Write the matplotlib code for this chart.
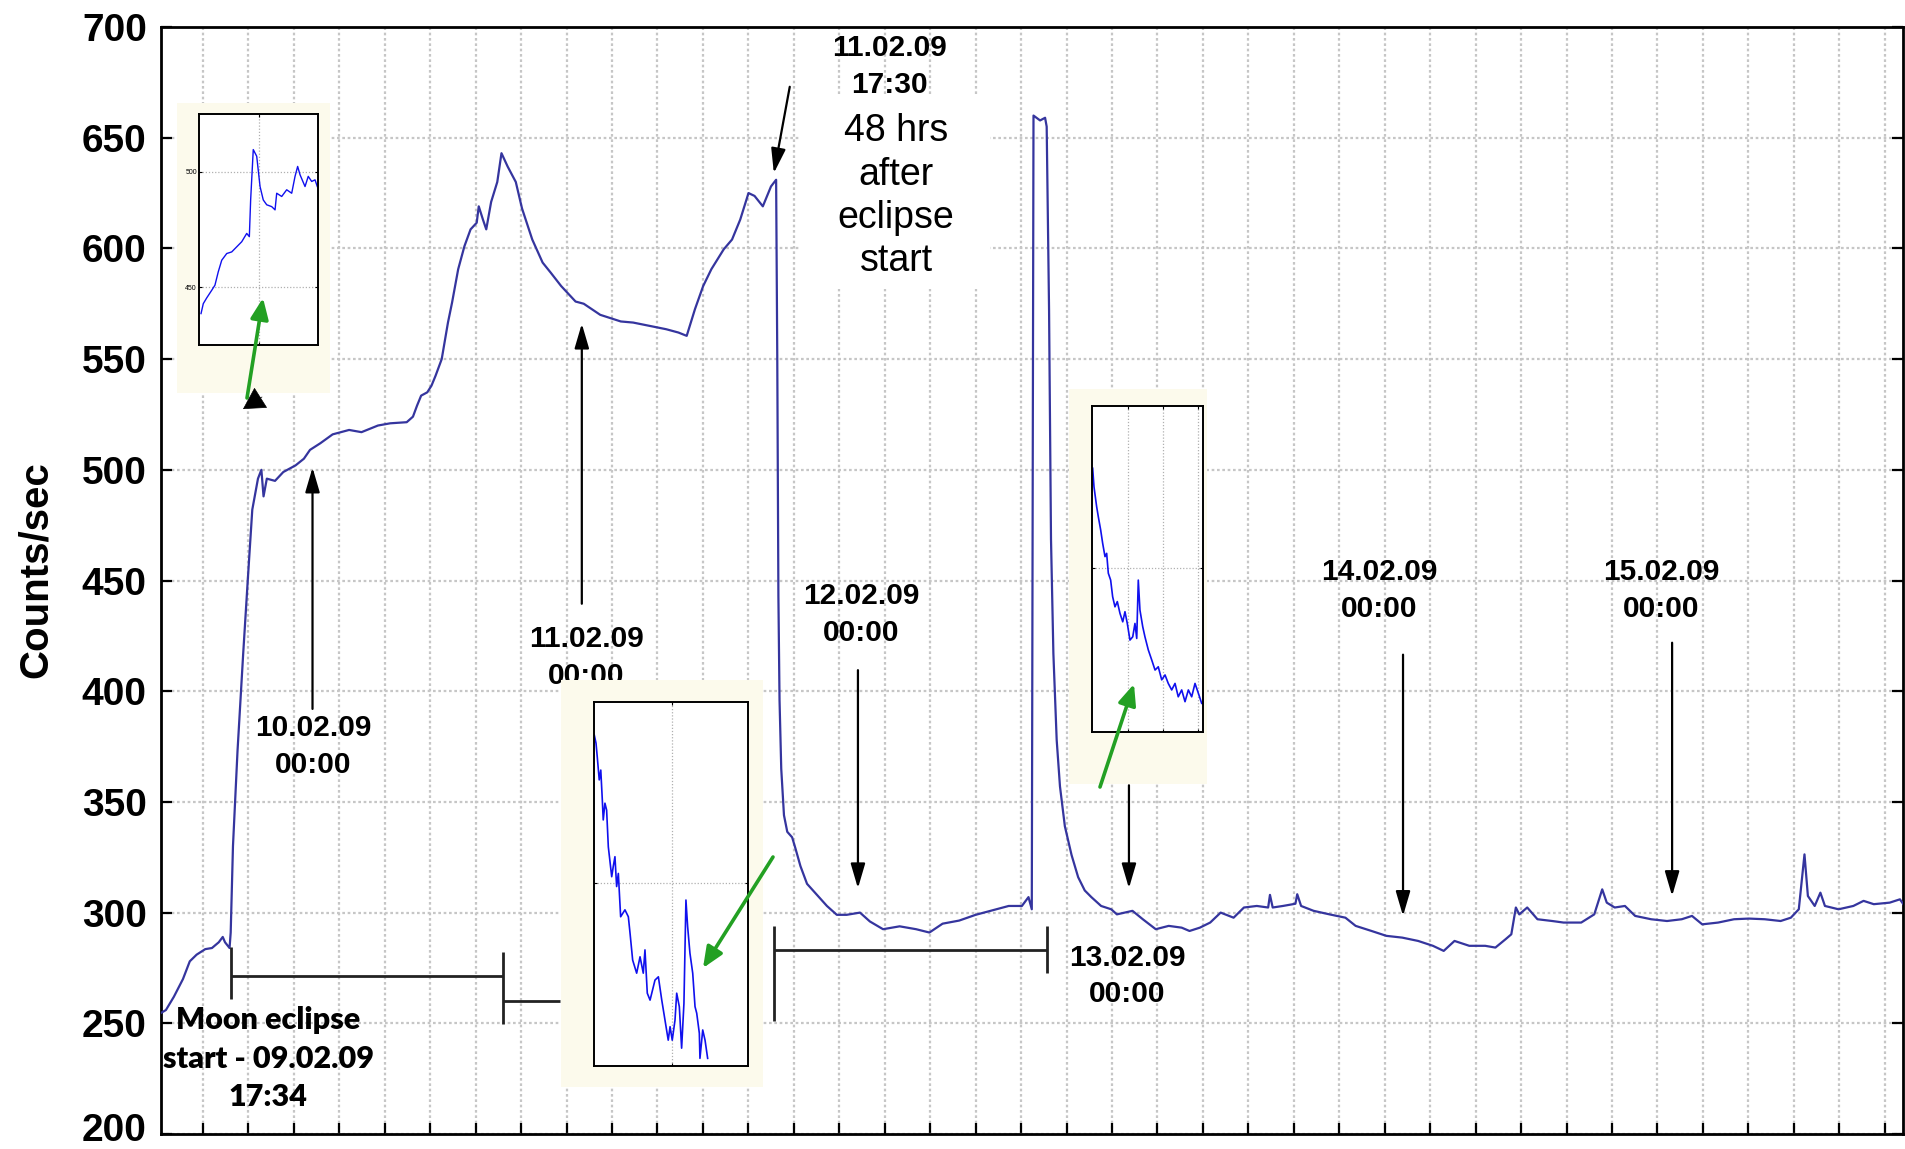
import numpy as np
import matplotlib
matplotlib.use("Agg")
import matplotlib.pyplot as plt
from matplotlib.patches import Rectangle, FancyArrowPatch
from matplotlib.transforms import ScaledTranslation

# ---------------- data (hours since 09.02.09 00:00, counts/sec) ----------------
hours = [10.94, 11.4, 12.1, 12.9, 13.5, 14.1, 14.86, 15.45, 16.05, 16.4, 16.6, 17.0, 17.1,
         17.3, 17.7, 18.2, 18.6, 19.0, 19.5, 19.80, 19.99, 20.28, 21.0, 21.73, 22.81, 23.54,
         24.08, 24.99, 26.07, 27.52, 28.61, 30.06, 31.14, 32.59, 33.14, 33.5, 33.86, 34.4,
         34.77, 35.13, 35.67, 36.22, 36.58, 37.12, 37.67, 38.21, 38.75, 38.93, 39.3, 39.59,
         40.02, 40.56, 40.93, 41.47, 42.19, 42.74, 43.64, 44.55, 45.27, 46.18, 47.45, 48.17,
         49.62, 51.43, 52.52, 53.97, 55.42, 56.5, 57.23, 57.59, 57.96, 58.68, 59.4, 60.49,
         61.22, 61.94, 62.67, 63.2, 63.93, 64.65, 65.1,
         65.2, 65.3, 65.4, 65.55, 65.79, 66.08, 66.51, 66.8, 67.24, 67.82, 68.70, 69.57,
         70.44, 71.31, 72.48, 73.35, 74.51, 75.97, 77.42, 78.59, 79.75, 81.21, 82.66, 84.11,
         85.57, 86.73, 87.31, 87.6, 87.75, 88.33, 88.77, 88.91, 89.12, 89.29, 89.5, 89.79,
         90.08, 90.51, 91.1, 91.68, 92.26, 92.84, 93.7, 94.59, 95.09, 96.46, 97.37, 98.51,
         99.65, 100.79, 101.48, 102.39, 103.3, 104.22, 105.36, 106.27, 107.4, 108.4, 108.56,
         108.8, 109.7, 110.8, 110.96, 111.3, 112.4, 113.8, 115.2, 116.1, 117.5, 118.8, 120.2,
         121.6, 122.9, 123.85, 124.8, 126.1, 127.5, 128.4, 129.3, 129.8, 130.2, 130.5, 131.2,
         132.1, 133.4, 134.4, 135.95, 137.1, 137.8, 138.2, 138.9, 139.8, 140.7, 142.1, 143.5,
         144.8, 145.7, 146.6, 148.0, 149.4, 150.7, 152.1, 153.5, 154.4, 155.1, 155.6, 155.9,
         156.5, 157.0, 157.4, 158.6, 159.9, 160.8, 161.7, 163.1, 164.0, 164.3]
counts = [254.6, 256, 262, 270, 278, 281, 283.5, 284, 286.6, 289, 286.6, 284, 291,
          330, 373, 417, 450, 482, 496, 500, 488, 496, 495, 499, 502, 505,
          509, 512, 516, 518, 517, 520, 521, 521.5, 524, 529, 533.5, 535,
          538, 542.5, 550, 566.5, 575.5, 590.6, 601, 608.6, 611.6, 619, 613, 608.6,
          621, 630, 643, 637, 630, 618, 604, 593.6, 589, 583, 576, 575,
          570, 567, 566.5, 565, 563.5, 562, 560.5, 566.5, 572.6, 583, 590.6, 599.6,
          604, 613, 625, 623.7, 619, 628, 631,
          551.6, 443, 396, 365, 344, 336.5, 334, 329, 321, 313, 308, 303,
          299, 299, 300, 296, 292.5, 293.8, 292.5, 291, 295, 296.4, 299, 301,
          303, 303, 307, 301.5, 660, 657.8, 659, 655, 572, 468.7, 417, 378,
          357, 339, 326, 316, 310, 307, 303, 301.5, 299.2, 300.8, 297, 292.5,
          294, 293.2, 291.7, 293.2, 295.5, 300, 297.7, 302.3, 303, 302.3, 308,
          302.3, 303, 304, 308.3, 303, 300.8, 299.2, 297.7, 294, 291.7, 289.5, 288.7,
          287.2, 285, 282.7, 287.2, 285, 285, 284.2, 288, 290.2, 302.3, 299.2, 302.3,
          297, 296.2, 295.5, 295.5, 299.2, 310.5, 304.5, 302.3, 303, 298.5, 297, 296.2,
          297, 298.5, 294.7, 295.5, 297, 297.3, 297, 296.2, 297.7, 301.5, 326.3, 307.5,
          303, 309, 303, 301.5, 303, 305.3, 303.8, 304.5, 306, 303.8]

yticks = [200, 250, 300, 350, 400, 450, 500, 550, 600, 650, 700]

# inset 1 (zoom around eclipse start)
in1_x = [1.7, 3.6, 6.5, 10.7, 13.4, 16.2, 19.1, 23.3, 27.5, 31.7, 35.9, 40.1, 42.3, 43.4,
         45.6, 48.5, 51.3, 54.0, 56.9, 61.1, 63.9, 65.3, 69.5, 73.7, 77.9, 80.7, 82.9,
         84.9, 89.1, 91.8, 94.7, 97.5, 99.4]
in1_y = [438.6, 442.9, 445.4, 448.7, 450.9, 456.7, 461.7, 464.6, 465.3, 467.5, 469.7,
         473.3, 471.9, 487.8, 509.6, 506.7, 493.6, 487.8, 485.7, 484.9, 483.5, 490.7,
         489.3, 492.2, 490.7, 498, 502.3, 498.7, 493.6, 498, 495.8, 496.5, 493.6]
in1_yticklabels = ["450", "500"]

# inset 2 (decay after 11.02 drop)
in2_x = [0.2, 1.3, 2.1, 3.4, 4.4, 5.4, 6.0, 7.1, 8.2, 9.3, 11.5, 12.5, 13.6, 14.7, 15.8,
         17.3, 20.1, 22.3, 23.4, 25.1, 27.7, 29.9, 32.0, 33.1, 34.6, 36.4, 39.6, 41.8,
         44.0, 46.1, 48.2, 49.4, 50.8, 52.6, 53.7, 55.4, 56.9, 58.4, 59.7, 60.8, 62.3,
         64.1, 65.6, 66.7, 68.4, 68.8, 70.6, 72.1, 73.8]
in2_y = [90.9, 88.7, 85.0, 78.6, 81.3, 73.1, 67.6, 72.2, 70.3, 60.2, 52.0, 54.8, 57.5,
         49.3, 52.9, 41.0, 42.9, 41.0, 36.5, 29.1, 25.5, 30.0, 25.5, 31.9, 20.0, 18.1,
         23.6, 24.5, 18.1, 12.6, 7.1, 10.8, 7.1, 12.6, 20.0, 16.3, 4.9, 17.2, 45.6, 38.3,
         31.0, 25.5, 16.3, 14.5, 9.0, 2.1, 9.9, 7.1, 2.1]

# inset 3 (decay after 12.02 spike)
in3_x = [0.6, 1.8, 4.2, 5.7, 7.8, 9.6, 11.7, 13.2, 14.7, 16.8, 18.6, 20.7, 22.8, 25.2,
         27.7, 29.7, 31.8, 34.2, 36.7, 38.7, 40.3, 41.7, 43.2, 45.7, 47.7, 50.7, 53.8,
         56.8, 59.7, 62.8, 65.8, 68.7, 71.8, 74.8, 77.7, 80.8, 83.8, 86.8, 89.8, 92.8,
         95.8, 98.8]
in3_y = [80.9, 75.2, 69.1, 66.0, 62.0, 57.9, 53.8, 54.8, 48.7, 46.6, 41.5, 38.4, 40.0,
         36.4, 33.8, 36.9, 33.3, 28.2, 29.2, 33.3, 28.7, 46.6, 37.4, 32.3, 29.2, 25.2,
         22.1, 19.0, 20.0, 16.0, 17.5, 14.9, 12.9, 14.9, 10.8, 12.9, 9.3, 12.9, 10.8,
         14.9, 11.9, 8.8]

# annotations: (label, text-x, text-y, arrow tail, arrow tip)
date_notes = [
    ("10.02.09\n00:00", 24.34, 374.9, (24.3, 392), (24.3, 501)),
    ("11.02.09\n00:00", 48.37, 415.4, (48.0, 439.5), (48.0, 566)),
    ("11.02.09\n17:30", 75.1, 682.0, (66.3, 673), (64.9, 634)),
    ("12.02.09\n00:00", 72.57, 434.8, (72.3, 409.5), (72.3, 311)),
    ("13.02.09\n00:00", 96.0, 271.4, (96.15, 357.5), (96.15, 311)),
    ("14.02.09\n00:00", 118.2, 445.6, (120.27, 416.5), (120.27, 298.5)),
    ("15.02.09\n00:00", 142.98, 445.6, (143.95, 421.9), (143.95, 307.5)),
]

# ---------------- figure ----------------
W, H = 1905, 1149
plt.rcParams['font.family'] = ['Liberation Sans', 'DejaVu Sans']
fig = plt.figure(figsize=(W / 100, H / 100), dpi=100)


def fbox(x0, y0, x1, y1):
    return [x0 / W, 1 - y1 / H, (x1 - x0) / W, (y1 - y0) / H]


def p2f(x, y):
    return (x / W, 1 - y / H)


ax = fig.add_axes(fbox(160.7, 27, 1903, 1134))
ax.set_xlim(10.94, 164.27)
ax.set_ylim(200, 700)
ax.set_yticks(yticks)
ax.set_yticklabels([str(v) for v in yticks], fontsize=28, fontweight='bold')
ax.set_xticks(np.arange(14.66, 164.27, 4))
ax.set_xticklabels([])
ax.set_axisbelow(True)
ax.grid(True, color='#c6c6c6', linestyle=(0, (1.2, 1.2)), linewidth=1.6)
ax.tick_params(axis='both', direction='in', length=8, width=1.6, right=True, top=False)
ax.tick_params(axis='y', pad=10)
for s in ax.spines.values():
    s.set_linewidth(2.0)
ax.set_ylabel('Counts/sec', fontsize=29, fontweight='bold',
              family=['Liberation Sans Narrow', 'Liberation Sans', 'DejaVu Sans'])
ax.yaxis.set_label_coords(-0.0607, 0.51)

# keep the lowest tick label inside the canvas
low = ax.yaxis.get_major_ticks()[0].label1
low.set_transform(low.get_transform() + ScaledTranslation(0, 5 / 72, fig.dpi_scale_trans))

ax.plot(hours, counts, color='#35359e', lw=1.6, zorder=3)

# white box behind "48 hrs" text
ax.add_patch(Rectangle((67.2, 581.5), 16.7, 87.9, facecolor='white', edgecolor='none', zorder=2))

arrow_kw = dict(arrowstyle='-|>,head_length=0.75,head_width=0.22', color='black', lw=1.6,
                mutation_scale=20, shrinkA=0, shrinkB=0)
for label, tx, ty, tail, tip in date_notes:
    ax.text(tx, ty, label, ha='center', va='center', fontsize=21.5, fontweight='bold',
            linespacing=1.4, zorder=4)
    ax.annotate('', xy=tip, xytext=tail, arrowprops=arrow_kw, zorder=4)

ax.text(75.65, 623.5, "48 hrs\nafter\neclipse\nstart", ha='center', va='center', fontsize=27,
        linespacing=1.26, zorder=4)

ax.text(20.4, 234, "Moon eclipse\nstart - 09.02.09\n17:34", ha='center', va='center',
        fontsize=22, fontweight='heavy', family=['Lato', 'DejaVu Sans'], linespacing=1.45, zorder=4)

# interval bars
bar_kw = dict(color='#222222', lw=2.0, zorder=4, solid_capstyle='butt')
ax.plot([17.1, 41.06], [271.5, 271.5], **bar_kw)
ax.plot([17.1, 17.1], [261, 284.5], **bar_kw)
ax.plot([41.06, 41.06], [249.8, 282.3], **bar_kw)
ax.plot([41.06, 46.1], [260, 260], **bar_kw)
ax.plot([64.9, 88.94], [283, 283], **bar_kw)
ax.plot([64.9, 64.9], [251, 294], **bar_kw)
ax.plot([88.94, 88.94], [272.6, 294], **bar_kw)

# ---------------- insets ----------------
cream = '#fcfaec'
for box in [(177, 103, 330, 393), (561, 680, 763, 1087), (1069, 389, 1207, 784)]:
    x0, y0, x1, y1 = box
    fig.add_artist(Rectangle(p2f(x0, y1), (x1 - x0) / W, (y1 - y0) / H, transform=fig.transFigure,
                             facecolor=cream, edgecolor='none', zorder=5))


def style_inset(a):
    a.set_zorder(6)
    a.set_facecolor('white')
    for s in a.spines.values():
        s.set_linewidth(1.4)
    a.grid(True, color='#b0b0b0', linestyle=(0, (1, 1.5)), linewidth=0.9)
    a.tick_params(direction='in', length=2.5, width=0.8, top=True, right=True, labelsize=5, pad=1.5)


a1 = fig.add_axes(fbox(199, 114, 318, 345))
a1.plot(in1_x, in1_y, color='#1010ee', lw=1.0)
a1.set_xlim(0, 100)
a1.set_ylim(425, 525)
a1.set_xticks([50.4])
a1.set_xticklabels([])
a1.set_yticks([450, 500])
a1.set_yticklabels(in1_yticklabels)
style_inset(a1)

a2 = fig.add_axes(fbox(594, 702, 748, 1066))
a2.plot(in2_x, in2_y, color='#1010ee', lw=1.2)
a2.set_xlim(0, 100)
a2.set_ylim(0, 100)
a2.set_xticks([50.6])
a2.set_yticks([50.3])
a2.set_xticklabels([])
a2.set_yticklabels([])
style_inset(a2)

a3 = fig.add_axes(fbox(1092, 406, 1203, 732))
a3.plot(in3_x, in3_y, color='#1010ee', lw=1.2)
a3.set_xlim(0, 100)
a3.set_ylim(0, 100)
a3.set_xticks([32, 64, 95.5])
a3.set_yticks([50.3])
a3.set_xticklabels([])
a3.set_yticklabels([])
style_inset(a3)

# green pointer arrows
green_kw = dict(arrowstyle='-|>,head_length=0.7,head_width=0.3', color='#23a023', lw=2.6,
                mutation_scale=18, shrinkA=0, shrinkB=0, transform=fig.transFigure, zorder=8)
for tail, tip in [((247, 398), (263, 298)), ((773, 857), (703, 968)), ((1100, 787), (1134, 684))]:
    fig.add_artist(FancyArrowPatch(p2f(*tail), p2f(*tip), **green_kw))
fig.add_artist(FancyArrowPatch(p2f(262, 397), p2f(243, 409), transform=fig.transFigure,
                               arrowstyle='-|>,head_length=0.8,head_width=0.45', color='black',
                               lw=0.5, mutation_scale=18, shrinkA=0, shrinkB=0, zorder=8))

fig.savefig('out.png', dpi=100, facecolor='white')
